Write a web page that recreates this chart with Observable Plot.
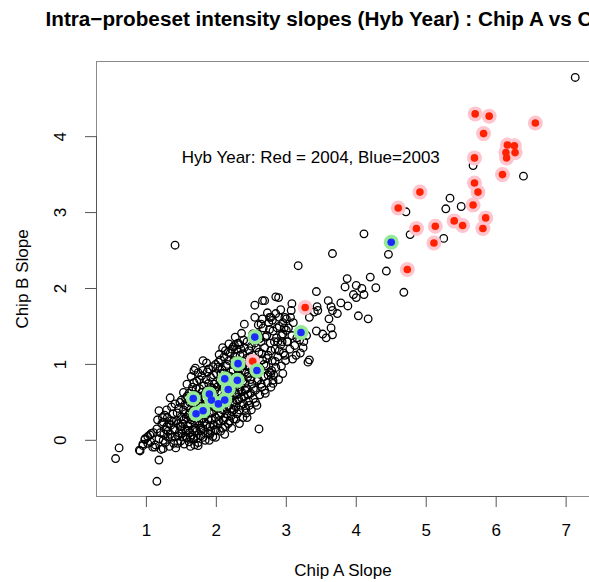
<!DOCTYPE html>
<html>
<head>
<meta charset="utf-8">
<script src="https://cdn.jsdelivr.net/npm/d3@7"></script>
<script src="https://cdn.jsdelivr.net/npm/@observablehq/plot@0.6"></script>
<style>
  html, body { margin: 0; padding: 0; background: #fff; overflow: hidden; }
</style>
</head>
<body>
<div id="chart"></div>
<script>
const titleText = "Intra\u2212probeset intensity slopes (Hyb Year) : Chip A vs Chip B";
const xLabel = "Chip A Slope";
const yLabel = "Chip B Slope";
const noteText = [{x: 3.35, y: 3.72, label: "Hyb Year: Red = 2004, Blue=2003"}];
const xTicks = [1, 2, 3, 4, 5, 6, 7];
const yTicks = [0, 1, 2, 3, 4];
const xDomain = [0.287, 7.334];
const yDomain = [-0.74, 4.99];

// all probesets (open black circles)
const blackPts = [
  [7.13,4.78],[6.39,3.48],[5.34,3.19],[5.28,3.05],[5.50,3.08],[5.67,3.62],[4.71,3.01],[4.77,2.71],[5.25,2.66],[4.68,1.95],
  [4.11,2.72],[3.66,2.46],[3.17,2.30],[4.46,2.45],[4.43,2.23],[3.87,2.13],[4.20,2.15],[4.00,2.04],[3.84,2.02],[4.08,2.00],
  [4.28,2.01],[3.96,1.92],[4.11,1.92],[4.00,1.88],[3.43,1.96],[2.89,1.88],[3.08,1.80],[3.60,1.84],[3.64,1.76],[3.78,1.81],
  [3.88,1.77],[3.44,1.76],[3.66,1.71],[3.45,1.71],[3.73,1.67],[4.03,1.64],[4.17,1.60],[3.61,1.60],[3.64,1.48],[3.43,1.44],
  [3.52,1.40],[3.66,1.39],[3.57,1.35],[3.07,1.71],[3.40,1.69],[3.33,1.62],[3.09,1.07],[3.33,1.06],[3.31,1.03],[2.81,0.75],
  [2.95,0.88],[1.41,2.57],
  [2.69,1.84],[2.55,1.78],[2.55,1.62],[2.78,1.62],[2.40,1.53],[2.64,1.53],[2.85,1.67],[1.81,1.05],[1.68,0.92],[2.26,1.25],
  [2.17,1.16],[2.85,1.89],[2.66,1.84],[2.76,1.62],
  [0.61,-0.10],[0.56,-0.24],[1.15,-0.54],[1.18,-0.26],[2.61,0.15],[1.90,0.00],[1.34,0.56],[1.18,0.39],[2.21,0.42],[1.45,-0.04],
  [0.90,-0.13],[1.05,0.07],[2.81,0.79],[2.78,0.88],[2.38,1.14],[2.33,1.26],[2.24,1.23],
  [0.91,-0.14],[0.95,-0.07],[1.07,0.09],[1.31,0.04],[1.24,-0.11],[1.12,-0.09],[1.57,0.04],[1.74,-0.07],[1.67,0.02],
  [2.00,0.13],[1.24,0.24],[1.36,0.26],[1.29,0.18],[1.50,0.53],[1.50,0.18],[1.78,0.13],[1.60,0.13],[0.98,0.02],[1.02,-0.04],
  [2.90,1.62],[2.95,1.55],[3.00,1.45],[2.93,1.38],[3.02,1.30],[2.88,1.30],[3.05,1.20],[2.98,1.12],[3.12,1.25],[3.15,1.35],
  [3.20,1.15],[3.25,1.30],[3.10,1.55],[2.92,1.72],[3.00,1.60],
  [1.02,0.05],[1.06,-0.02],[1.10,0.10],[1.13,-0.06],[1.15,0.15],[1.18,0.02],[1.21,-0.12],[1.22,0.22],[1.25,0.08],[1.27,-0.03],
  [1.30,0.30],[1.31,0.12],[1.33,-0.08],[1.35,0.20],[1.37,0.04],[1.38,0.35],[1.40,0.14],[1.42,-0.10],[1.43,0.26],[1.45,0.06],
  [1.46,0.42],[1.48,0.18],[1.49,-0.01],[1.50,0.31],[0.95,-0.05],[0.98,0.01],[1.09,-0.09],[1.16,0.27],[1.26,0.33],[1.41,0.48],
  [1.51,0.09],[1.52,0.22],[1.53,0.40],[1.54,-0.05],[1.55,0.15],[1.56,0.55],[1.57,0.30],[1.58,0.03],[1.59,0.45],[1.60,0.19],
  [1.61,0.62],[1.62,0.36],[1.62,0.10],[1.63,-0.08],[1.64,0.27],[1.65,0.50],[1.66,0.70],[1.66,0.14],[1.67,0.40],[1.68,0.02],
  [1.69,0.23],[1.70,0.60],[1.71,0.46],[1.72,0.12],[1.72,0.78],[1.73,0.31],[1.74,-0.03],[1.75,0.52],[1.76,0.20],[1.76,0.68],
  [1.77,0.38],[1.78,0.06],[1.79,0.85],[1.80,0.28],[1.80,0.57],[1.81,0.15],[1.82,0.72],[1.83,0.44],[1.84,0.00],[1.84,0.33],
  [1.85,0.62],[1.86,0.21],[1.87,0.90],[1.87,0.48],[1.88,0.09],[1.89,0.75],[1.90,0.36],[1.90,0.56],[1.91,0.18],[1.92,0.83],
  [1.93,0.27],[1.93,0.66],[1.94,0.45],[1.95,0.05],[1.95,0.97],[1.96,0.38],[1.97,0.74],[1.98,0.14],[1.98,0.58],[1.99,0.30],
  [2.00,0.88],[1.53,0.63],[1.58,0.74],[1.64,0.84],[1.70,0.95],[1.74,0.89],[1.86,1.02],[1.63,0.04],[1.69,-0.06],[1.81,0.04],
  [1.92,0.12],[1.97,0.20],[1.56,0.35],[1.68,0.33],[1.78,0.48],[1.88,0.60],[1.94,0.69],
  [2.01,0.42],[2.02,0.22],[2.02,0.64],[2.03,1.03],[2.04,0.33],[2.05,0.78],[2.06,0.12],[2.07,0.55],[2.08,0.93],[2.09,0.40],
  [2.10,0.26],[2.10,0.70],[2.11,1.10],[2.12,0.48],[2.13,0.18],[2.14,0.86],[2.15,0.60],[2.15,0.35],[2.16,1.00],[2.17,0.45],
  [2.18,0.76],[2.19,0.25],[2.20,1.15],[2.20,0.58],[2.21,0.90],[2.22,0.38],[2.23,0.68],[2.24,0.50],[2.25,1.05],[2.25,0.28],
  [2.26,0.82],[2.27,0.62],[2.28,0.44],[2.29,1.20],[2.30,0.95],[2.30,0.35],[2.31,0.70],[2.32,0.54],[2.33,0.86],[2.34,1.12],
  [2.35,0.46],[2.36,0.64],[2.37,0.98],[2.38,0.30],[2.38,0.78],[2.39,1.32],[2.40,0.58],[2.41,0.90],[2.42,0.42],[2.43,1.08],
  [2.44,0.68],[2.45,0.84],[2.46,0.52],[2.47,1.18],[2.48,0.96],[2.49,0.62],[2.50,0.40],[2.04,1.13],[2.09,1.22],[2.18,1.27],
  [2.27,1.36],[2.36,1.41],[2.12,0.08],[2.22,0.16],[2.33,0.22],[2.44,0.30],[2.07,0.88],[2.14,0.98],[2.23,0.74],[2.29,0.60],
  [2.41,0.75],[2.46,1.02],
  [2.51,0.74],[2.52,1.12],[2.53,0.55],[2.54,0.88],[2.55,1.28],[2.56,0.66],[2.57,1.00],[2.58,0.46],[2.59,1.40],[2.60,0.80],
  [2.61,1.16],[2.62,0.60],[2.63,0.94],[2.64,1.30],[2.65,0.70],[2.66,1.06],[2.67,1.48],[2.68,0.84],[2.69,1.22],[2.70,0.62],
  [2.71,0.98],[2.72,1.38],[2.73,0.76],[2.74,1.12],[2.75,1.55],[2.76,0.90],[2.77,1.28],[2.78,0.70],[2.80,1.05],[2.81,1.44],
  [2.82,0.86],[2.84,1.20],[2.85,0.96],[2.86,1.35],[2.88,1.10],[2.89,0.80],[2.90,1.50],[2.92,1.26],[2.93,0.98],[2.95,1.40],
  [2.96,1.15],[2.98,1.62],[2.99,1.05],
  [3.01,1.30],[3.03,1.48],[3.06,1.62],[3.08,1.38],[3.14,1.12],[3.19,1.32],[3.24,1.22],[3.29,1.38],
  [1.52,0.05],[1.54,0.28],[1.55,0.47],[1.57,0.12],[1.58,0.58],[1.60,0.33],[1.61,-0.02],[1.62,0.50],[1.63,0.21],[1.65,0.65],
  [1.65,0.07],[1.67,0.30],[1.68,0.76],[1.69,0.48],[1.70,0.16],[1.71,0.68],[1.72,0.38],[1.73,0.03],[1.74,0.57],[1.75,0.25],
  [1.76,0.80],[1.77,0.45],[1.78,0.16],[1.79,0.63],[1.80,0.38],[1.81,0.92],[1.82,0.24],[1.83,0.55],[1.84,0.10],[1.85,0.80],
  [1.86,0.40],[1.87,0.66],[1.88,0.28],[1.89,0.94],[1.90,0.48],[1.91,0.08],[1.92,0.70],[1.93,0.36],[1.94,0.58],[1.95,0.20],
  [1.96,0.86],[1.97,0.44],[1.98,0.66],[1.99,0.04],[1.99,1.00],
  [1.20,0.10],[1.23,0.30],[1.24,0.00],[1.28,0.14],[1.29,0.40],[1.32,0.22],[1.34,0.08],[1.36,0.44],[1.39,0.25],[1.41,0.05],
  [1.44,0.36],[1.47,0.10],[1.48,0.50],[1.45,0.22],[1.39,-0.04],
  [2.01,0.70],[2.02,0.96],[2.03,0.50],[2.04,0.26],[2.05,0.62],[2.06,1.06],[2.07,0.36],[2.08,0.74],[2.09,0.16],[2.10,0.56],
  [2.11,0.88],[2.12,0.30],[2.13,1.18],[2.14,0.66],[2.15,0.42],[2.16,0.80],[2.17,0.22],[2.18,1.05],[2.19,0.54],[2.20,0.84],
  [2.21,0.32],[2.22,1.20],[2.23,0.58],[2.24,0.92],[2.25,0.40],[2.26,0.70],[2.27,1.10],[2.28,0.28],[2.29,0.84],[2.30,0.52],
  [2.31,1.28],[2.32,0.66],[2.33,0.40],[2.34,0.94],[2.35,1.20],[2.36,0.56],[2.37,0.82],[2.38,1.04],[2.39,0.48],[2.40,1.22],
  [2.41,0.66],[2.42,0.98],[2.43,0.36],[2.44,1.30],[2.45,0.60],[2.46,0.88],[2.47,0.46],[2.48,1.10],[2.49,0.80],[2.50,1.24],
  [2.51,0.92],[2.52,1.40],[2.53,0.68],[2.55,1.06],[2.56,0.50],[2.57,1.22],[2.58,0.78],[2.60,1.52],[2.61,0.96],[2.62,1.34],
  [2.64,0.74],[2.65,1.14],[2.66,1.60],[2.68,1.00],[2.69,0.66],[2.70,1.36],[2.72,1.08],[2.73,1.68],[2.74,0.86],[2.76,1.46],
  [2.78,1.18],[2.79,0.92],[2.80,1.58],[2.83,1.30],[2.84,1.04],[2.87,1.48],[2.90,1.18],[2.94,1.30],[2.97,1.48]
];

// Hyb Year 2004 (red)
const redPts = [
  [2.52,1.04],[3.27,1.75],[4.60,3.06],[4.73,2.25],[4.86,2.79],[4.91,3.27],[5.11,2.60],[5.13,2.82],[5.40,2.89],[5.52,2.83],
  [5.67,3.10],[5.69,3.39],[5.69,3.72],[5.70,4.30],[5.74,3.27],[5.81,2.79],[5.82,4.04],[5.85,2.93],[5.90,4.27],[6.09,3.50],
  [6.14,3.79],[6.15,3.72],[6.16,3.89],[6.26,3.88],[6.27,3.79],[6.56,4.18]
];

// Hyb Year 2003 (blue)
const bluePts = [
  [1.67,0.55],[1.71,0.35],[1.81,0.39],[1.90,0.61],[1.93,0.53],[2.03,0.48],[2.12,0.53],[2.17,0.67],[2.12,0.81],[2.30,0.79],
  [2.31,1.01],[2.58,0.92],[2.55,1.36],[3.21,1.42],[4.50,2.61]
];

const font = "'Liberation Sans', Arial, Helvetica, sans-serif";
const boxStroke = "#8a8a8a";
const axisStroke = "#555";

const chart = Plot.plot({
  width: 589,
  height: 582,
  marginLeft: 96,
  marginRight: 0,
  marginTop: 61,
  marginBottom: 86,
  style: {fontFamily: font, background: "#fff", color: "#000"},
  x: {domain: xDomain},
  y: {domain: yDomain},
  marks: [
    // plot box (top, bottom, left; right edge is cut off)
    Plot.ruleY([yDomain[1]], {stroke: boxStroke, strokeWidth: 1}),
    Plot.ruleY([yDomain[0]], {stroke: boxStroke, strokeWidth: 1}),
    Plot.ruleX([xDomain[0]], {stroke: boxStroke, strokeWidth: 1}),
    // axis lines spanning first to last tick
    Plot.ruleY([{y: yDomain[0], x1: xTicks[0], x2: xTicks[xTicks.length - 1]}], {y: "y", x1: "x1", x2: "x2", stroke: axisStroke}),
    Plot.ruleX([{x: xDomain[0], y1: yTicks[0], y2: yTicks[yTicks.length - 1]}], {x: "x", y1: "y1", y2: "y2", stroke: axisStroke}),
    Plot.axisX({ticks: xTicks, tickSize: 11, tickFormat: () => "", stroke: axisStroke}),
    Plot.axisY({ticks: yTicks, tickSize: 11, tickFormat: () => "", stroke: axisStroke}),
    Plot.text(xTicks, {x: d => d, frameAnchor: "bottom", dy: 34, text: d => String(d), fontSize: 17, lineAnchor: "middle", fill: "#000"}),
    Plot.text(yTicks, {y: d => d, frameAnchor: "left", dx: -36, rotate: -90, text: d => String(d), fontSize: 17, textAnchor: "middle", lineAnchor: "middle", fill: "#000"}),
    // axis titles
    Plot.text([xLabel], {frameAnchor: "bottom", dy: 74, text: d => d, fontSize: 17, lineAnchor: "middle", fill: "#000"}),
    Plot.text([yLabel], {frameAnchor: "left", dx: -74, rotate: -90, text: d => d, fontSize: 17, textAnchor: "middle", lineAnchor: "middle", fill: "#000"}),
    // main title (the reference crops it at the right edge)
    Plot.text([titleText], {frameAnchor: "top-left", dx: -51, dy: -36, text: d => d, fontSize: 20.7, fontWeight: "bold", textAnchor: "start", lineAnchor: "bottom", fill: "#000"}),
    // points
    Plot.dot(blackPts, {x: d => d[0], y: d => d[1], r: 3.8, stroke: "#000", strokeWidth: 1.3, fill: "none"}),
    Plot.dot(redPts, {x: d => d[0], y: d => d[1], r: 7.5, fill: "#ffc4cd", stroke: "none"}),
    Plot.dot(redPts, {x: d => d[0], y: d => d[1], r: 3.8, fill: "#ff2200", stroke: "none"}),
    Plot.dot(bluePts, {x: d => d[0], y: d => d[1], r: 7.5, fill: "#94ea94", stroke: "none"}),
    Plot.dot(bluePts, {x: d => d[0], y: d => d[1], r: 3.8, fill: "#1c2cff", stroke: "none"}),
    // annotation
    Plot.text(noteText, {x: "x", y: "y", text: "label", fontSize: 17, textAnchor: "middle", lineAnchor: "middle", fill: "#000"})
  ]
});
document.getElementById("chart").appendChild(chart);
</script>
</body>
</html>
